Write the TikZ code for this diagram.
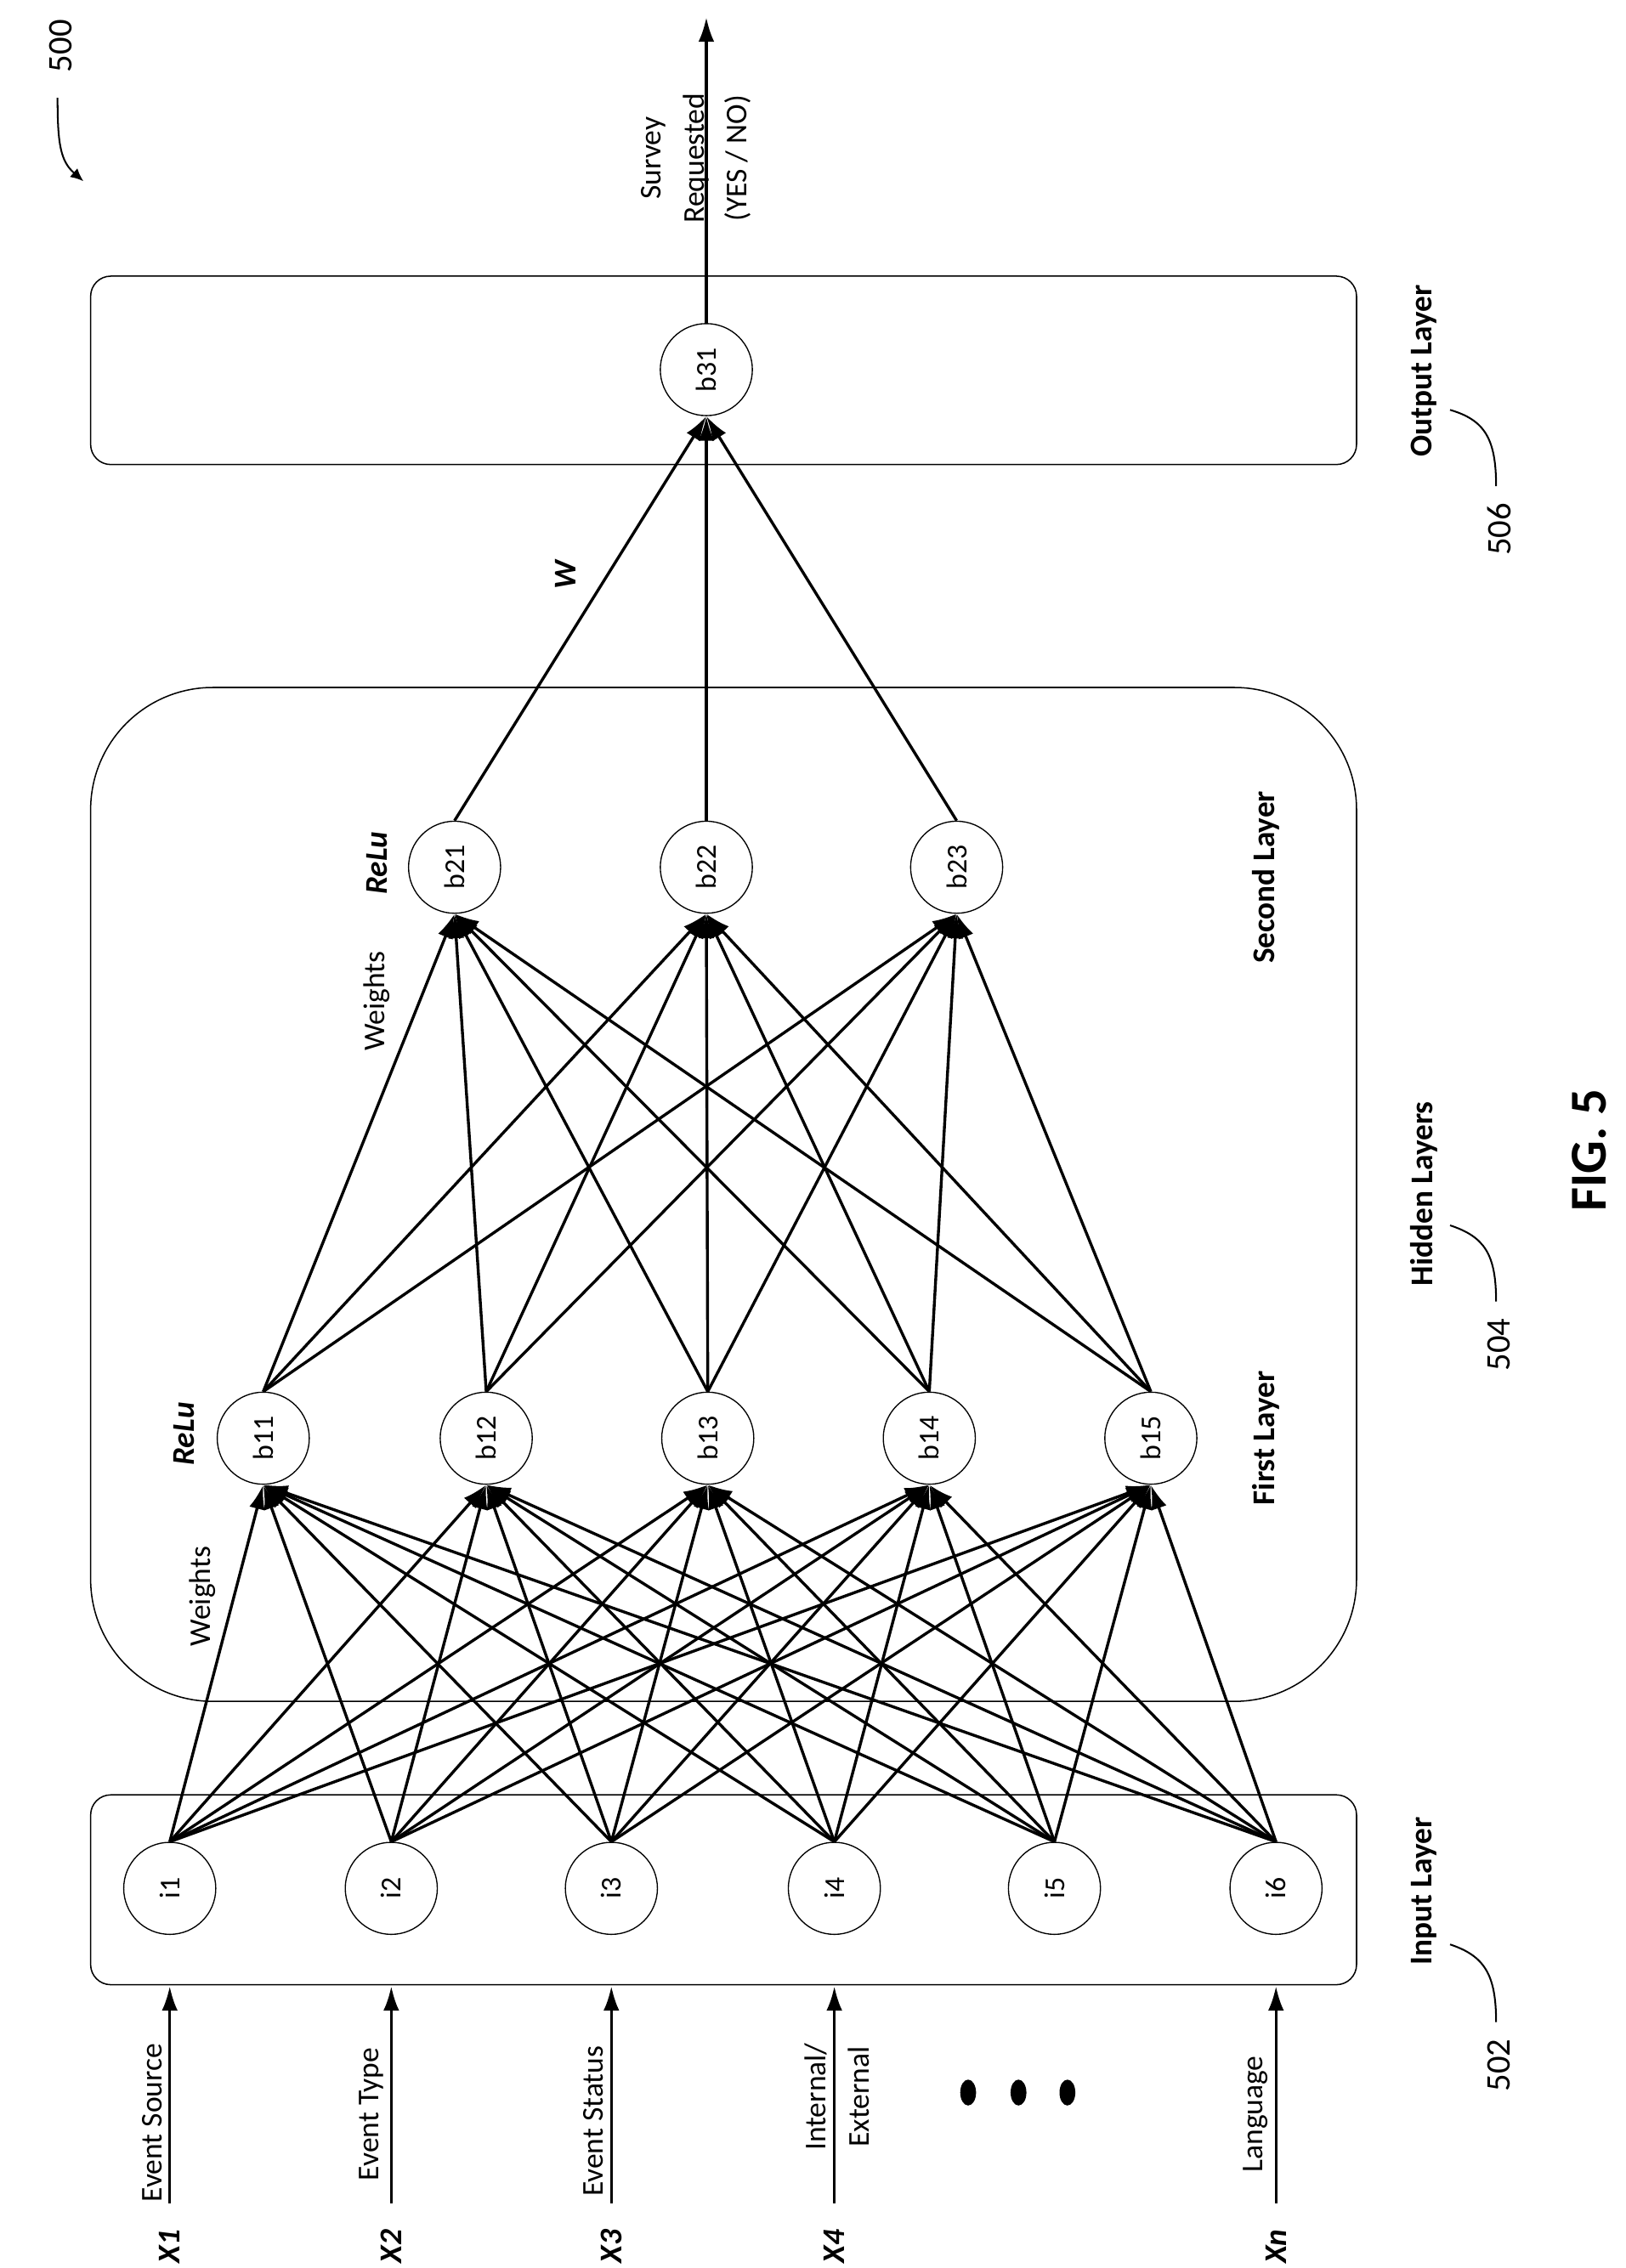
\documentclass[tikz,border=0pt]{standalone}
\usepackage{fontspec}
\setmainfont{Carlito}
\usetikzlibrary{arrows.meta}
\begin{document}
\begin{tikzpicture}[x=1pt,y=-1pt,
  neuron/.style={circle,draw,line width=0.8pt,minimum size=64pt,inner sep=0pt,font=\fontsize{20}{22}\selectfont,rotate=90},
  lay/.style={draw,line width=0.9pt},
  edge/.style={line width=2pt,-{Latex[length=17pt,width=11pt]}},
  lbl/.style={rotate=90,font=\fontsize{21}{25}\selectfont,align=center},
  blbl/.style={rotate=90,font=\bfseries\fontsize{22}{26}\selectfont},
  bil/.style={rotate=90,font=\bfseries\itshape\fontsize{22}{26}\selectfont},
  lead/.style={line width=1.2pt}]
\useasboundingbox (0,0) rectangle (1130,1577);
% boxes
\draw[lay,rounded corners=14pt] (63,192) rectangle (943,323);
\draw[lay,rounded corners=85pt] (63,478) rectangle (943,1183);
\draw[lay,rounded corners=14pt] (63,1248) rectangle (943,1380);
% nodes
\foreach \n/\x in {1/118,2/272,3/425,4/580,5/733,6/887}
  \node[neuron] (i\n) at (\x,1313) {i\n};
\foreach \n/\x in {1/183,2/338,3/492,4/646,5/800}
  \node[neuron] (b1\n) at (\x,1000) {b1\n};
\foreach \n/\x in {1/316,2/491,3/665}
  \node[neuron] (b2\n) at (\x,603) {b2\n};
\node[neuron] (b31) at (491,257) {b31};
% edges
\foreach \a in {1,...,6}\foreach \b in {1,...,5}
  \draw[edge] (i\a.east) -- (b1\b.west);
\foreach \a in {1,...,5}\foreach \b in {1,2,3}
  \draw[edge] (b1\a.east) -- (b2\b.west);
\foreach \a in {1,2,3}
  \draw[edge] (b2\a.east) -- (b31.west);
% output arrow
\coordinate (out) at (491,12);
\draw[edge] (b31.east) -- (out);
\node[lbl,font=\fontsize{21}{30}\selectfont] (surv) at (484,110) {Survey\\Requested\\(YES / NO)};
% inputs
\foreach \n/\x/\t in {1/118/X1,2/272/X2,3/425/X3,4/580/X4,6/887/Xn}{
  \coordinate (s\n) at (\x,1532);
  \draw[edge] (s\n) -- (\x,1381);
  \node[bil] (x\n) at (\x,1562) {\t};
}
\node[lbl,anchor=south] (e1) at (116,1476) {Event Source};
\node[lbl,anchor=south] (e2) at (270,1470) {Event Type};
\node[lbl,anchor=south] (e3) at (423,1475) {Event Status};
\node[lbl,font=\fontsize{21}{30}\selectfont] (e4) at (582,1458) {Internal/\\External};
\node[lbl,anchor=south] (e6) at (885,1470) {Language};
\foreach \x in {673,708,742}
  \fill (\x,1455) ellipse (5.5pt and 9pt);
% layer annotations
\node[lbl] (w1) at (141,1110) {Weights};
\node[lbl] (w2) at (262,696) {Weights};
\node[bil] (r1) at (128,997) {ReLu};
\node[bil] (r2) at (262,600) {ReLu};
\node[bil] (W) at (393,400) {W};
\node[blbl] (sl) at (880,610) {Second Layer};
\node[blbl] (fl) at (880,1000) {First Layer};
\node[blbl] (hl) at (990,830) {Hidden Layers};
\node[blbl] (ol) at (990,258) {Output Layer};
\node[blbl] (il) at (990,1315) {Input Layer};
\node[rotate=90,font=\bfseries\fontsize{36}{40}\selectfont] (fig) at (1105,800) {FIG. 5};
% reference numerals
\node[lbl,font=\fontsize{24}{26}\selectfont] (n500) at (42,32) {500};
\draw[lead,-{Latex[length=9pt,width=8pt]}] (40,68) .. controls (40,100) and (42,112) .. (58,126);
\node[lbl,font=\fontsize{24}{26}\selectfont] (n506) at (1042,368) {506};
\draw[lead] (1040,338) .. controls (1040,305) and (1032,292) .. (1008,285);
\node[lbl,font=\fontsize{24}{26}\selectfont] (n504) at (1042,935) {504};
\draw[lead] (1040,905) .. controls (1040,872) and (1032,860) .. (1008,852);
\node[lbl,font=\fontsize{24}{26}\selectfont] (n502) at (1042,1436) {502};
\draw[lead] (1040,1406) .. controls (1040,1373) and (1032,1360) .. (1008,1352);
\end{tikzpicture}
\end{document}
